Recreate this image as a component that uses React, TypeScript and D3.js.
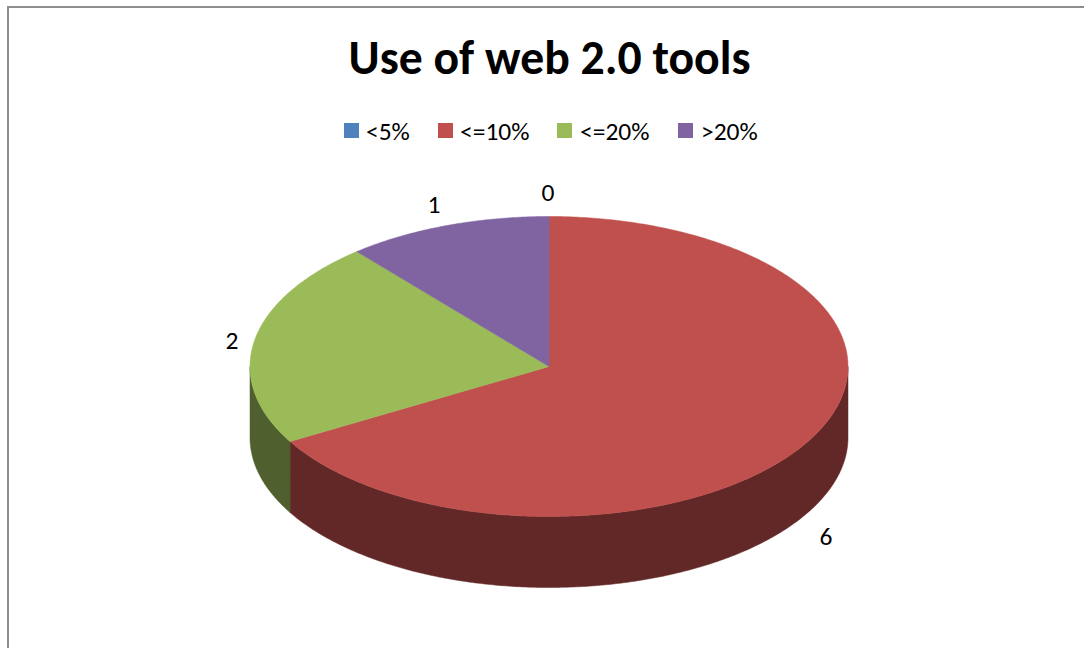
import React from "react";
import * as d3 from "d3";

const title = "Use of web 2.0 tools";
const categories = ["<5%", "<=10%", "<=20%", ">20%"];
const values = [0, 6, 2, 1];
const topColors = ["#4F81BD", "#C0504D", "#9BBB59", "#8064A2"];
const sideColors = ["#29435F", "#622827", "#4F5F2D", "#413252"];
const labelPos = [
  { x: 548, y: 192 },
  { x: 826, y: 536 },
  { x: 232, y: 340 },
  { x: 434, y: 204 },
];
const legendX = [344, 438, 557, 678];
const legendTextX = [366, 460, 580, 701];

const W = 1084;
const H = 648;
const cx = 549;
const cy = 366.5;
const rx = 299;
const ry = 150;
const depth = 71;
const font = "Carlito, Calibri, 'Open Sans', 'Noto Sans', sans-serif";

const xScale = d3.scaleLinear().domain([-1, 1]).range([cx - rx, cx + rx]);
const yScale = d3.scaleLinear().domain([-1, 1]).range([cy - ry, cy + ry]);

// angle measured clockwise from 12 o'clock
const pt = (a: number, dz = 0): [number, number] => [
  xScale(Math.sin(a)),
  yScale(-Math.cos(a)) + dz,
];

const arcPts = (a0: number, a1: number, dz = 0): [number, number][] => {
  const n = Math.max(2, Math.ceil(Math.abs(a1 - a0) / 0.01));
  return d3.range(n + 1).map((i) => pt(a0 + ((a1 - a0) * i) / n, dz));
};

const line = d3.line();

const arcs = d3
  .pie<number>()
  .sort(null)
  .value((d) => d)(values);

export default function App() {
  const sides: React.ReactNode[] = [];
  arcs.forEach((s, i) => {
    // only the front half of the rim (angles between 90deg and 270deg) shows
    const a0 = Math.max(s.startAngle, Math.PI / 2);
    const a1 = Math.min(s.endAngle, (3 * Math.PI) / 2);
    if (a1 <= a0) return;
    const rim = [...arcPts(a0, a1), ...arcPts(a1, a0, depth)];
    sides.push(
      <path key={i} d={line(rim) + "Z"} fill={sideColors[i]} stroke={sideColors[i]} strokeWidth={0.5} />
    );
  });

  return (
    <svg
      width={W}
      height={H}
      style={{ position: "absolute", left: 0, top: 0, display: "block" }}
    >
      <rect width={W} height={H} fill="#fff" />
      <path d={`M8 ${H}V7H${W}`} fill="none" stroke="#8E8E8E" strokeWidth={2} />
      <text x={549.5} y={74} textAnchor="middle" fontFamily={font} fontWeight={700} fontSize={47.7} fill="#000">
        {title}
      </text>
      {categories.map((c, i) => (
        <g key={c}>
          <rect x={legendX[i]} y={123} width={15} height={15} fill={topColors[i]} />
          <text x={legendTextX[i]} y={140} fontFamily={font} fontSize={25.5} fill="#000">
            {c}
          </text>
        </g>
      ))}
      {sides}
      {arcs.map((s, i) =>
        s.endAngle > s.startAngle ? (
          <path
            key={i}
            d={line([[cx, cy], ...arcPts(s.startAngle, s.endAngle)]) + "Z"}
            fill={topColors[i]}
            stroke={topColors[i]}
            strokeWidth={0.5}
          />
        ) : null
      )}
      {values.map((v, i) => (
        <text
          key={i}
          x={labelPos[i].x}
          y={labelPos[i].y + 8.5}
          textAnchor="middle"
          fontFamily={font}
          fontSize={25.5}
          fill="#000"
        >
          {v}
        </text>
      ))}
    </svg>
  );
}
